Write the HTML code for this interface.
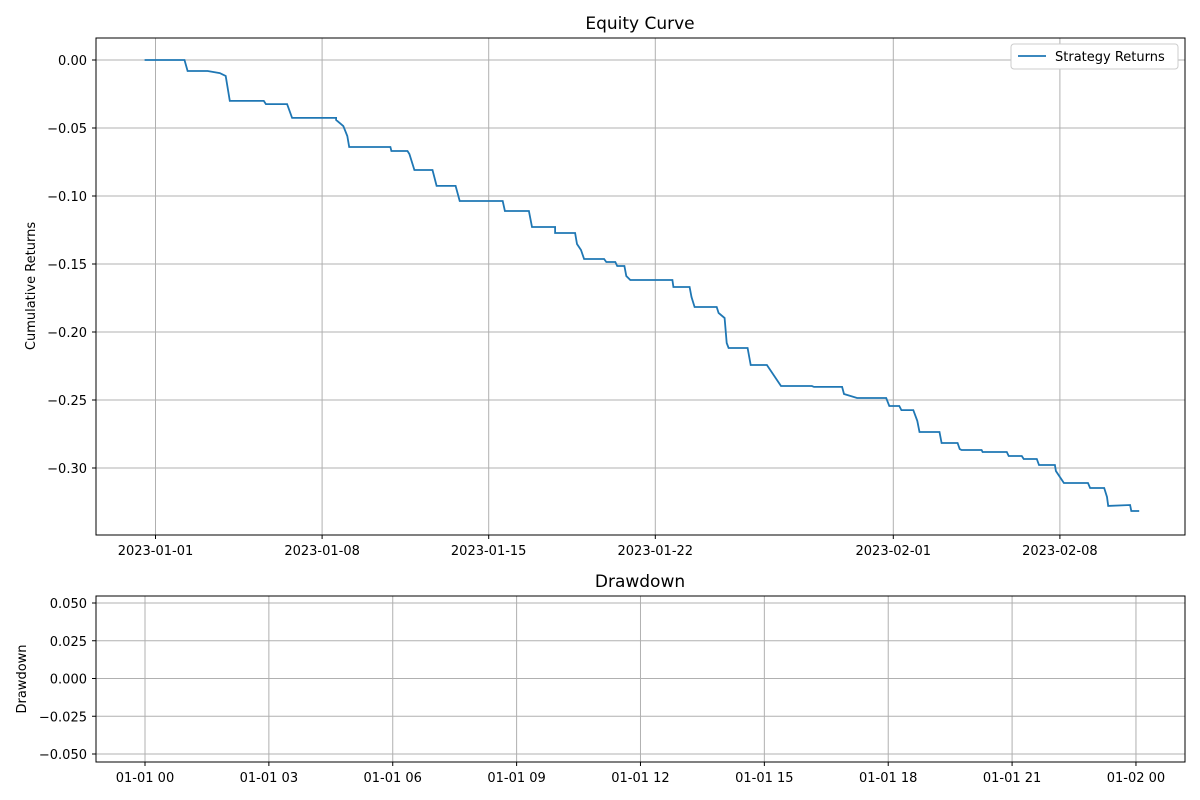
<!DOCTYPE html>
<html><head><meta charset="utf-8"><style>
body{margin:0;background:#fff}
svg{display:block;font-family:"DejaVu Sans","Liberation Sans",sans-serif}
</style></head><body>
<svg id="c" width="1200" height="800"></svg>
<script>
const days=[-0.46,1.22,1.35,2.19,2.70,2.95,3.12,4.55,4.64,5.53,5.74,7.59,7.59,7.89,8.06,8.14,9.87,9.91,10.59,10.67,10.88,11.64,11.81,12.61,12.78,14.59,14.68,15.69,15.82,16.79,16.79,17.63,17.71,17.88,18.01,18.85,18.94,19.32,19.40,19.70,19.78,19.95,21.72,21.76,22.44,22.52,22.65,23.58,23.66,23.91,24.0,24.08,24.88,25.01,25.69,26.28,27.58,27.67,28.85,28.93,29.48,30.70,30.83,31.25,31.34,31.84,32.01,32.10,32.94,33.03,33.70,33.79,33.87,34.71,34.75,35.77,35.85,36.40,36.48,37.03,37.12,37.79,37.83,38.0,38.17,39.18,39.27,39.86,39.98,40.03,40.95,41.0,41.33];
const returns=[0,0,-0.0081,-0.0081,-0.0096,-0.0118,-0.0301,-0.0301,-0.0324,-0.0324,-0.0426,-0.0426,-0.0441,-0.0485,-0.0559,-0.064,-0.064,-0.0669,-0.0669,-0.0691,-0.0809,-0.0809,-0.0926,-0.0926,-0.1037,-0.1037,-0.111,-0.111,-0.1228,-0.1228,-0.1272,-0.1272,-0.1353,-0.1397,-0.1463,-0.1463,-0.1485,-0.1485,-0.1515,-0.1515,-0.1588,-0.1618,-0.1618,-0.1669,-0.1669,-0.1743,-0.1816,-0.1816,-0.186,-0.1897,-0.2081,-0.2118,-0.2118,-0.2243,-0.2243,-0.2397,-0.2397,-0.2404,-0.2404,-0.2456,-0.2485,-0.2485,-0.2544,-0.2544,-0.2574,-0.2574,-0.2654,-0.2735,-0.2735,-0.2816,-0.2816,-0.286,-0.2868,-0.2868,-0.2882,-0.2882,-0.2912,-0.2912,-0.2934,-0.2934,-0.2978,-0.2978,-0.3022,-0.3066,-0.311,-0.311,-0.3147,-0.3147,-0.3213,-0.3279,-0.3272,-0.3316,-0.3316];
const topYTicks=[0,-0.05,-0.1,-0.15,-0.2,-0.25,-0.3];
const topXTickDays=[0,7,14,21,31,38];
const topXTickLabels=["2023-01-01","2023-01-08","2023-01-15","2023-01-22","2023-02-01","2023-02-08"];
const ddYTicks=[0.05,0.025,0,-0.025,-0.05];
const ddXTickHours=[0,3,6,9,12,15,18,21,24];
const ddXTickLabels=["01-01 00","01-01 03","01-01 06","01-01 09","01-01 12","01-01 15","01-01 18","01-01 21","01-02 00"];

const svg=document.getElementById('c');const NS='http://www.w3.org/2000/svg';
function el(t,a,p){const e=document.createElementNS(NS,t);for(const k in a)e.setAttribute(k,a[k]);(p||svg).appendChild(e);return e;}
const X=d=>155.5+d*23.8, Y=v=>60-v*1360;
const X2=h=>145+h*41.29, Y2=v=>678.5-v*1510;

function frame(x,y,w,h,name){const r=el('rect',{x:x,y:y,width:w,height:h,fill:'none',stroke:'#000','stroke-width':1});}
function txt(x,y,s,anchor,size,name,extra){const t=el('text',Object.assign({x:x,y:y,'font-size':size,'text-anchor':anchor,fill:'#000'},extra||{}));t.textContent=s;return t;}

topYTicks.forEach(v=>{const y=Y(v);el('line',{x1:96,x2:1185,y1:y,y2:y,stroke:'#b0b0b0','stroke-width':1});el('line',{x1:92,x2:96,y1:y,y2:y,stroke:'#000'});txt(87,y+5,v.toFixed(2).replace('-','−'),'end',13,'y-tick-label');});
topXTickDays.forEach((d,i)=>{const x=X(d);el('line',{x1:x,x2:x,y1:38,y2:535,stroke:'#b0b0b0','stroke-width':1});el('line',{x1:x,x2:x,y1:535,y2:539,stroke:'#000'});txt(x,555,topXTickLabels[i],'middle',13,'x-tick-label');});
const pts=days.map((d,i)=>X(d).toFixed(1)+','+Y(returns[i]).toFixed(1)).join(' ');
const line=el('polyline',{points:pts,fill:'none',stroke:'#1f77b4','stroke-width':1.8});


frame(96,38,1089,497,'equity-plot-area');
txt(640,29,'Equity Curve','middle',17,'equity-title');
txt(35,286,'Cumulative Returns','middle',13,'y-axis-title',{transform:'rotate(-90 35 286)'});
const lg=el('rect',{x:1011,y:44,width:167,height:25,fill:'#fff',stroke:'#ccc',rx:3});


el('line',{x1:1018,x2:1046,y1:56,y2:56,stroke:'#1f77b4','stroke-width':1.8});
txt(1055,61,'Strategy Returns','start',13,'legend-entry');

ddYTicks.forEach(v=>{const y=Y2(v);el('line',{x1:96,x2:1185,y1:y,y2:y,stroke:'#b0b0b0'});el('line',{x1:92,x2:96,y1:y,y2:y,stroke:'#000'});txt(87,y+5,v.toFixed(3).replace('-','−'),'end',13,'dd-y-tick-label');});
ddXTickHours.forEach((h,i)=>{const x=X2(h);el('line',{x1:x,x2:x,y1:596,y2:762,stroke:'#b0b0b0'});el('line',{x1:x,x2:x,y1:762,y2:766,stroke:'#000'});txt(x,782,ddXTickLabels[i],'middle',13,'dd-x-tick-label');});
frame(96,596,1089,166,'drawdown-plot-area');
txt(640,587,'Drawdown','middle',17,'drawdown-title');
txt(26,679,'Drawdown','middle',13,'dd-y-axis-title',{transform:'rotate(-90 26 679)'});
</script>
</body></html>
